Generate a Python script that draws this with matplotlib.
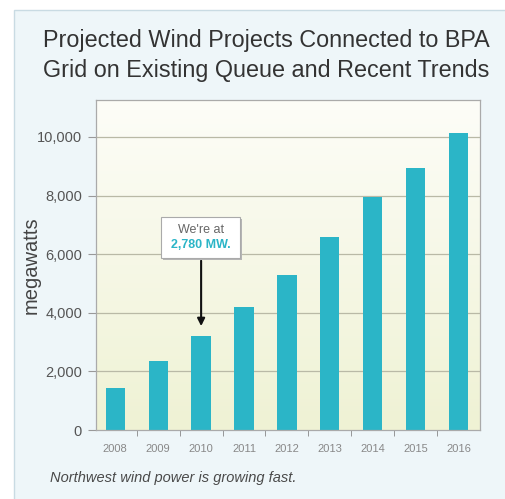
import matplotlib
matplotlib.use("Agg")
import matplotlib.pyplot as plt
import numpy as np
from matplotlib.patches import Rectangle
from matplotlib.colors import LinearSegmentedColormap

years = ["2008", "2009", "2010", "2011", "2012", "2013", "2014", "2015", "2016"]
megawatts = [1430, 2350, 3200, 4200, 5300, 6580, 7950, 8950, 10150]
yticks = [0, 2000, 4000, 6000, 8000, 10000]
ytick_labels = ["0", "2,000", "4,000", "6,000", "8,000", "10,000"]

W, H = 506, 499
fig = plt.figure(figsize=(W/100, H/100), dpi=100)
fig.patch.set_facecolor("white")

# outer panel
panel = Rectangle((14/W, -0.01), 1, 1.01 - 10/H, transform=fig.transFigure,
                  facecolor="#eef6f9", edgecolor="#c9dbe3", lw=1.0, zorder=-5)
fig.patches.append(panel)

fig.text(266/W, 1 - 40/H, "Projected Wind Projects Connected to BPA",
         ha="center", va="center", fontsize=16.8, color="#333333", family="Liberation Sans")
fig.text(266/W, 1 - 70/H, "Grid on Existing Queue and Recent Trends",
         ha="center", va="center", fontsize=16.8, color="#333333", family="Liberation Sans")
fig.text(50/W, 1 - 478/H, "Northwest wind power is growing fast.",
         ha="left", va="center", fontsize=10.5, color="#4a4a4a", style="italic",
         family="Liberation Sans")

ax = fig.add_axes([96/W, 1 - 430/H, 384/W, 330/H])
x = np.arange(len(years))
ymax = 11260
x0, x1 = -0.45, 8.5
ax.set_xlim(x0, x1)
ax.set_ylim(0, ymax)

# gradient background
cmap = LinearSegmentedColormap.from_list("bg", ["#eff2d4", "#fdfdf8"])
grad = np.linspace(0, 1, 256).reshape(-1, 1)
ax.imshow(grad, extent=[x0, x1, 0, ymax], origin="lower", aspect="auto",
          cmap=cmap, zorder=0)

for yv in yticks[1:]:
    ax.axhline(yv, color="#b9b9a6", lw=0.9, zorder=1)

ax.bar(x, megawatts, width=0.45, color="#2bb5c7", zorder=2)

ax.set_yticks(yticks)
ax.set_yticklabels(ytick_labels, fontsize=10.5, color="#555555", family="Liberation Sans")
ax.set_xticks(x)
ax.set_xticklabels(years, fontsize=8, color="#888888", family="Liberation Sans")
ax.tick_params(axis="x", length=0, pad=10)
ax.set_xticks(np.arange(0.5, 8.0, 1.0), minor=True)
ax.tick_params(axis="x", which="minor", length=4, color="#888888")
ax.tick_params(axis="y", length=6, color="#999999", pad=4)
for s in ax.spines.values():
    s.set_color("#aaaaaa")
    s.set_linewidth(0.9)

ax.set_ylabel("megawatts", fontsize=14.5, color="#444444", family="Liberation Sans", labelpad=-3)

# annotation box with arrow
ax_x = 2.0
ax.annotate("", xy=(ax_x, 3450), xytext=(ax_x, 5870),
            arrowprops=dict(arrowstyle="-|>", color="#111111", lw=1.5,
                            mutation_scale=11), zorder=5)
shadow = Rectangle((1.07 + 0.04, 5800), 1.84, 1400,
                   facecolor="#b5b5b5", edgecolor="none", zorder=5.5)
box = Rectangle((1.07, 5870), 1.84, 1400,
                facecolor="white", edgecolor="#aaaaaa", lw=0.8, zorder=6)
ax.add_patch(shadow)
ax.add_patch(box)
ax.text(ax_x, 6830, "We're at", ha="center", va="center", fontsize=9,
        color="#666666", family="Liberation Sans", zorder=7)
ax.text(ax_x, 6310, "2,780 MW.", ha="center", va="center", fontsize=9,
        color="#2bb5c7", weight="bold", family="Liberation Sans", zorder=7)

fig.savefig("out.png", dpi=100, facecolor=fig.get_facecolor())
